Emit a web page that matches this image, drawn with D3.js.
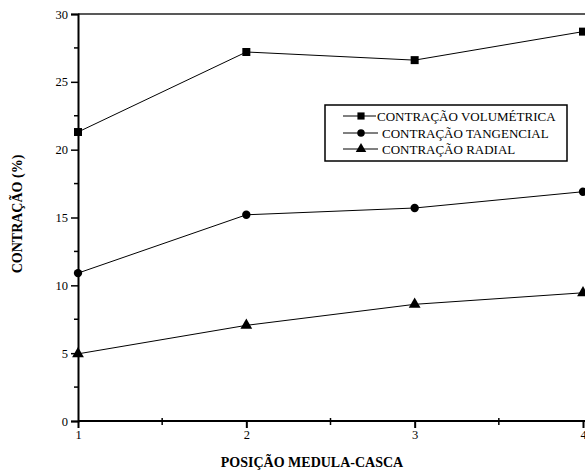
<!DOCTYPE html>
<html><head><meta charset="utf-8">
<script src="https://cdn.jsdelivr.net/npm/d3@7"></script>
<style>body{margin:0;background:#fff}svg{display:block}text{font-family:'Liberation Serif','Times New Roman',Times,serif}</style>
</head><body><svg id="c" width="585" height="472"></svg>
<script>
const positions = [1, 2, 3, 4];
const volumetrica = [21.3, 27.2, 26.6, 28.7];
const tangencial = [10.9, 15.2, 15.7, 16.9];
const radial = [4.95, 7.05, 8.6, 9.45];
const seriesNames = ["CONTRAÇÃO VOLUMÉTRICA", "CONTRAÇÃO TANGENCIAL", "CONTRAÇÃO RADIAL"];
const yTicks = [0, 5, 10, 15, 20, 25, 30];
const xTicks = [1, 2, 3, 4];
const FONT = "Liberation Serif";

const svg = d3.select("#c");
const x = d3.scaleLinear().domain([1, 4]).range([78, 583]);
const y = d3.scaleLinear().domain([0, 30]).range([421, 14]);

svg.append("line").attr("x1", 78).attr("x2", 585).attr("y1", y(30)).attr("y2", y(30))
  .attr("stroke", "#222").attr("stroke-width", 1.5);

const yAx = svg.append("g").attr("transform", "translate(78,0)")
  .call(d3.axisLeft(y).tickValues(yTicks).tickSize(7).tickPadding(3).tickFormat(d3.format("d")));
yAx.attr("font-family", FONT);
yAx.selectAll("text").attr("font-size", 12.5).attr("fill", "#000").attr("font-family", FONT);
yAx.selectAll("line").attr("stroke-width", 1.5);
yAx.select(".domain").attr("stroke-width", 2);
svg.append("g").selectAll("line").data(d3.range(2.5, 30, 5)).join("line")
  .attr("x1", 74).attr("x2", 78).attr("y1", d => y(d)).attr("y2", d => y(d))
  .attr("stroke", "#000").attr("stroke-width", 1.5);

const xAx = svg.append("g").attr("transform", "translate(0,421)")
  .call(d3.axisBottom(x).tickValues(xTicks).tickSize(7).tickPadding(2).tickFormat(d3.format("d")));
xAx.attr("font-family", FONT);
xAx.selectAll("text").attr("font-size", 12.5).attr("fill", "#000").attr("font-family", FONT);
xAx.selectAll("line").attr("stroke-width", 2);
xAx.select(".domain").attr("stroke-width", 2).attr("d", "M78,0H585");
svg.append("g").selectAll("line").data([1.5, 2.5, 3.5]).join("line")
  .attr("x1", d => x(d)).attr("x2", d => x(d)).attr("y1", 418).attr("y2", 425)
  .attr("stroke", "#000").attr("stroke-width", 1.5);

svg.append("text").attr("x", 312).attr("y", 467).attr("text-anchor", "middle").attr("font-family", FONT)
  .attr("font-size", 14).attr("font-weight", "bold").text("POSIÇÃO MEDULA-CASCA");
svg.append("text").attr("transform", "translate(22,214) rotate(-90)").attr("text-anchor", "middle").attr("font-family", FONT)
  .attr("font-size", 14).attr("font-weight", "bold").text("CONTRAÇÃO (%)");

const line = d3.line().x((d, i) => x(positions[i])).y(d => y(d));
const all = [volumetrica, tangencial, radial];
const shapes = [d3.symbolSquare, d3.symbolCircle, d3.symbolTriangle];
const sizes = [64, 55, 60];

all.forEach((s, k) => {
  svg.append("path").attr("d", line(s)).attr("fill", "none").attr("stroke", "#000").attr("stroke-width", 1);
  svg.append("g").selectAll("path").data(s).join("path")
    .attr("transform", (d, i) => `translate(${x(positions[i])},${y(d)})`)
    .attr("d", d3.symbol().type(shapes[k]).size(sizes[k])).attr("fill", "#000");
});

const lg = svg.append("g");
lg.append("rect").attr("x", 325).attr("y", 105).attr("width", 242).attr("height", 56)
  .attr("fill", "#fff").attr("stroke", "#000").attr("stroke-width", 1.5);
const rowsY = [116, 133, 149];
const textX = [377, 382, 382];
seriesNames.forEach((n, k) => {
  lg.append("line").attr("x1", 343).attr("x2", textX[k] - (k ? 4 : 1)).attr("y1", rowsY[k]).attr("y2", rowsY[k])
    .attr("stroke", "#000").attr("stroke-width", 1);
  lg.append("path").attr("transform", `translate(361,${rowsY[k]})`)
    .attr("d", d3.symbol().type(shapes[k]).size(sizes[k] * 0.8)).attr("fill", "#000");
  lg.append("text").attr("x", textX[k]).attr("y", rowsY[k] + 4.5).attr("font-family", FONT).attr("font-size", 13).text(n);
});
</script></body></html>
